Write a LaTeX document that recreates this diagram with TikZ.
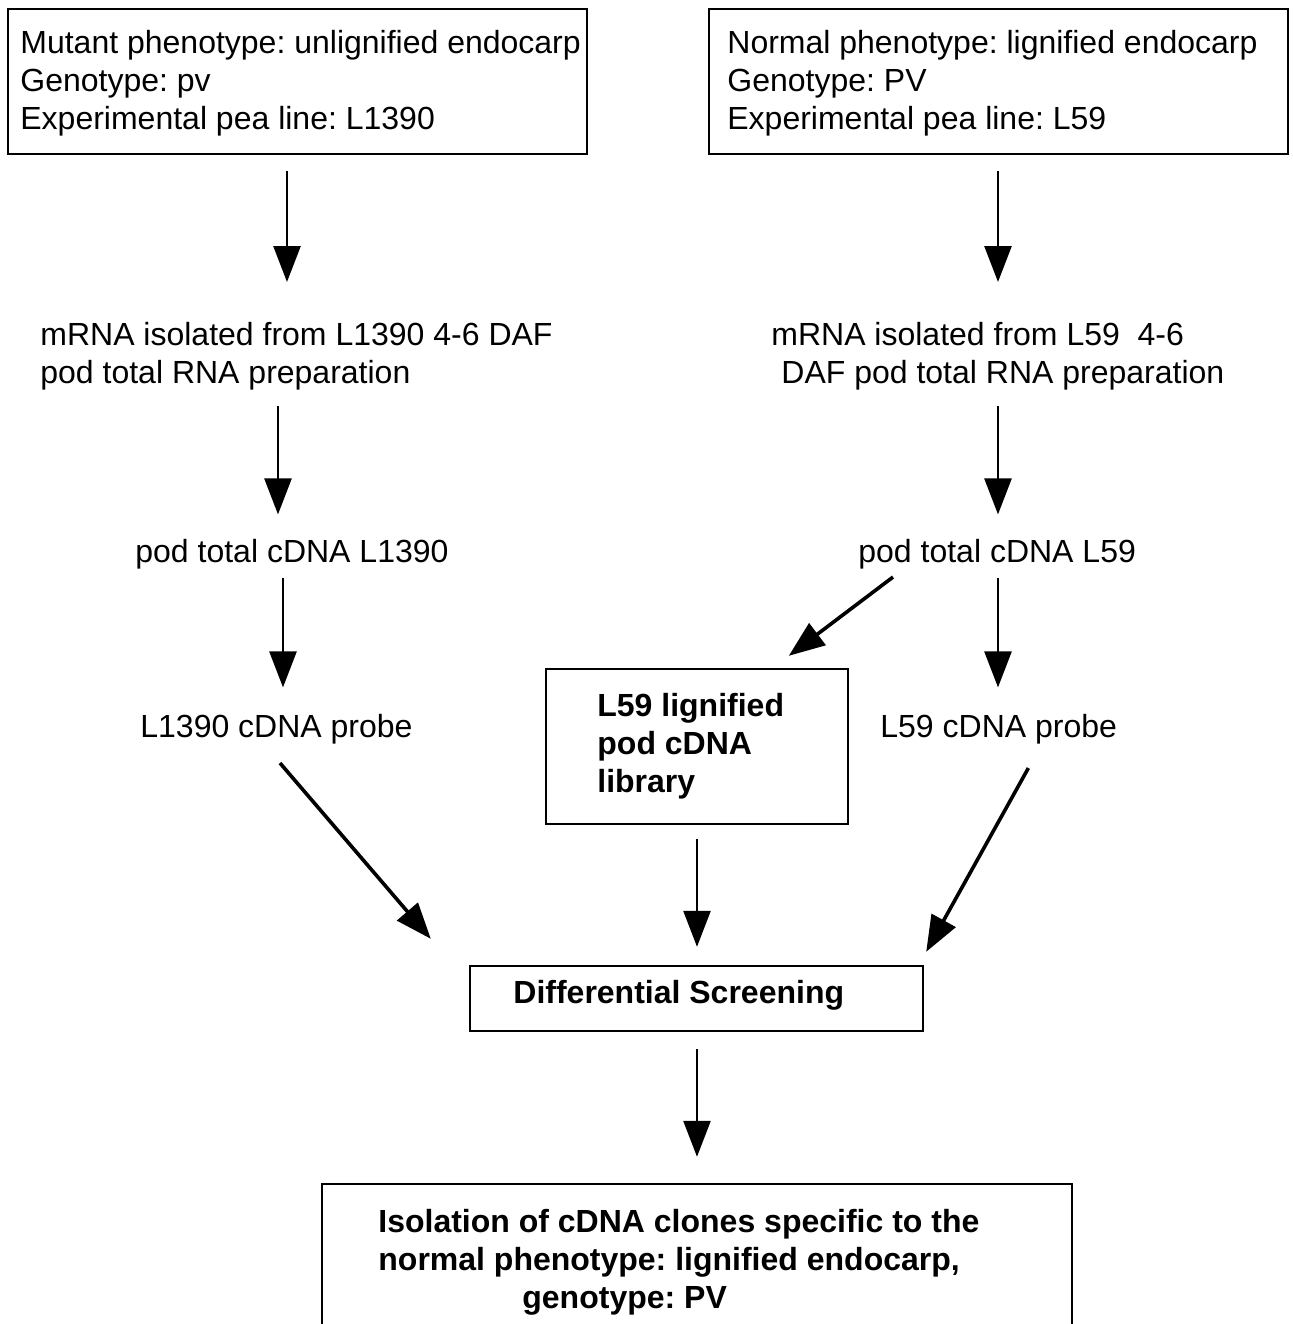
\documentclass[tikz,border=0pt]{standalone}
\usepackage{fontspec}
\setmainfont{Liberation Sans}
\usetikzlibrary{arrows.meta,calc}
\frenchspacing
\begin{document}
\begin{tikzpicture}[x=0.5pt,y=-0.5pt,
  txt/.style={inner sep=0pt, font=\fontsize{16}{19}\selectfont, align=left},
  btxt/.style={inner sep=0pt, font=\fontsize{16}{19}\selectfont\bfseries, align=left},
  box/.style={draw, line width=1.2pt, inner sep=0pt},
  arr/.style={line width=1.3pt, -{Triangle[length=18pt,width=13.5pt]}},
  darr/.style={arr, line width=1.8pt}]
\clip (0,0) rectangle (1292,1324);
\fill[white] (0,0) rectangle (1292,1324);

% boxes
\node[box, minimum width=289.5pt, minimum height=72.5pt] (box1) at (297.5,81.5) {};
\node[box, minimum width=289.5pt, minimum height=72.5pt] (box2) at (998.5,81.5) {};
\node[box, minimum width=151pt, minimum height=77.5pt] (lib) at (697,746.5) {};
\node[box, minimum width=226.5pt, minimum height=32.5pt] (diff) at (696.5,998.5) {};
\node[box, minimum width=375pt, minimum height=83pt] (iso) at (697,1267) {};

% texts
\node[txt, anchor=north west] (box1t) at (20,30) {\frenchspacing Mutant phenotype: unlignified endocarp\\Genotype: pv\\Experimental pea line: L1390};
\node[txt, anchor=north west] (box2t) at (727,30) {\frenchspacing Normal phenotype: lignified endocarp\\Genotype: PV\\Experimental pea line: L59};
\node[txt, anchor=north west] (mrnaL) at (40,322) {mRNA isolated from L1390 4-6 DAF\\pod total RNA preparation};
\node[txt, anchor=north west] (mrnaR) at (771,322) {mRNA isolated from L59\ \ 4-6\\\hspace*{5pt}DAF pod total RNA preparation};
\node[txt, anchor=base west] (cdnaL) at (135,562) {pod total cDNA L1390};
\node[txt, anchor=base west] (cdnaR) at (858,562) {pod total cDNA L59};
\node[txt, anchor=base west] (probeL) at (140,737) {L1390 cDNA probe};
\node[txt, anchor=base west] (probeR) at (880,737) {L59 cDNA probe};
\node[btxt, anchor=north west] (libt) at (597,693) {L59 lignified\\pod cDNA\\library};
\node[btxt, anchor=base west] (difft) at (513,1003) {Differential Screening};
\node[btxt, anchor=north west] (isot) at (378,1209) {\frenchspacing Isolation of cDNA clones specific to the\\normal phenotype: lignified endocarp,\\\hspace*{72pt}genotype: PV};

% arrow columns
\coordinate (cA) at (287,0);
\coordinate (cB) at (998,0);
\coordinate (cC) at (278,0);
\coordinate (cD) at (283,0);
\coordinate (cE) at (697,0);

% arrows
\draw[arr] ($(box1.south -| cA)+(0,16)$) -- ($(mrnaL.north -| cA)+(0,-40)$);
\draw[arr] ($(box2.south -| cB)+(0,16)$) -- ($(mrnaR.north -| cB)+(0,-40)$);
\draw[arr] ($(mrnaL.south -| cC)+(0,15)$) -- ($(cdnaL.north -| cC)+(0,-24)$);
\draw[arr] ($(mrnaR.south -| cB)+(0,15)$) -- ($(cdnaR.north -| cB)+(0,-24)$);
\draw[arr] ($(cdnaL.south -| cD)+(0,9)$) -- ($(probeL.north -| cD)+(0,-26)$);
\draw[arr] ($(cdnaR.south -| cB)+(0,9)$) -- ($(probeR.north -| cB)+(0,-26)$);
\draw[darr] ($(cdnaR.south west)+(35,8)$) -- ($(lib.north west)+(244,-12)$);
\draw[darr] ($(probeL.south west)+(140,19)$) -- ($(diff.north west)+(-38,-26)$);
\draw[arr] ($(lib.south -| cE)+(0,14)$) -- ($(diff.north -| cE)+(0,-18)$);
\draw[darr] ($(probeR.south east)+(-89,24)$) -- ($(diff.north east)+(2,-13)$);
\draw[arr] ($(diff.south -| cE)+(0,17)$) -- ($(iso.north -| cE)+(0,-26)$);
\end{tikzpicture}
\end{document}
